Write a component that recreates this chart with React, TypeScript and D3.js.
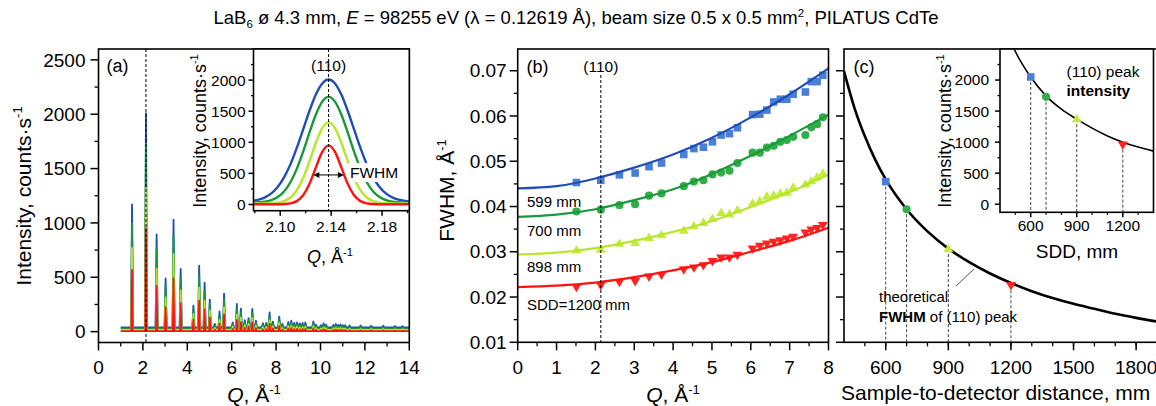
import React from "react";
import * as d3 from "d3";

const FONT = "Arial, 'Liberation Sans', Helvetica, sans-serif";

// ---- panel (a): LaB6 pattern, peak tops for each SDD (599, 700, 898, 1200 mm)
const peakQ = [
  1.511, 2.138, 2.618, 3.023, 3.38, 3.702, 4.275, 4.535, 4.78, 5.013, 5.236, 5.45, 5.656, 6.046,
  6.232, 6.413, 6.589, 6.76, 6.927, 7.09, 7.405, 7.558, 7.707, 7.854, 8.14, 8.279, 8.55, 8.683,
  8.813, 8.942, 9.069, 9.194, 9.318, 9.678, 9.796, 10.02, 10.14, 10.25, 10.58, 10.69, 10.79, 10.9,
  11.0, 11.11, 11.31, 11.81, 12.28, 12.83, 13.35, 13.69,
];
const peakTop599 = [
  1170, 2010, 895, 490, 1030, 578, 240, 608, 450, 295, 72, 185, 350, 85, 255, 212, 105, 125, 208,
  100, 78, 80, 178, 92, 138, 72, 90, 100, 80, 85, 76, 80, 85, 95, 65, 60, 76, 65, 62, 70, 62, 66,
  60, 60, 57, 57, 55, 55, 52, 50,
];
const peakTop700 = [
  1000, 1730, 765, 425, 885, 495, 205, 515, 380, 255, 56, 153, 292, 67, 215, 176, 84, 101, 172,
  80, 61, 62, 147, 73, 112, 56, 71, 80, 62, 67, 59, 62, 67, 75, 50, 45, 59, 50, 47, 54, 47, 50,
  45, 45, 43, 43, 41, 41, 38, 37,
];
const peakTop898 = [
  770, 1320, 580, 315, 715, 380, 162, 405, 285, 195, 36, 110, 225, 45, 157, 128, 58, 71, 126, 55,
  40, 41, 106, 49, 80, 36, 48, 55, 41, 45, 39, 41, 45, 51, 32, 28, 39, 32, 30, 35, 30, 33, 28, 28,
  26, 26, 25, 25, 23, 22,
];
const peakTop1200 = [
  567, 950, 420, 225, 490, 262, 110, 285, 205, 132, 19, 74, 158, 26, 107, 87, 35, 45, 85, 33, 22,
  23, 70, 29, 51, 19, 28, 33, 23, 26, 21, 23, 26, 30, 16, 14, 21, 16, 15, 18, 15, 17, 14, 14, 12,
  12, 11, 11, 10, 9,
];
const baseLevel = [40, 28, 15, 4];
const patternStart = 1.0;
const patternEnd = 14.0;

// ---- inset (a): (110) peak profiles
const insetQ = [
  2.078, 2.083, 2.088, 2.093, 2.098, 2.103, 2.108, 2.113, 2.118, 2.123, 2.128, 2.133, 2.138,
  2.143, 2.148, 2.153, 2.158, 2.163, 2.168, 2.173, 2.178, 2.183, 2.188, 2.193, 2.198, 2.203,
];
const inset599 = [
  58, 77, 114, 178, 282, 436, 645, 909, 1206, 1507, 1768, 1946, 2010, 1946, 1768, 1507, 1206, 909,
  645, 436, 282, 178, 114, 77, 58, 48,
];
const inset700 = [
  30, 35, 46, 70, 120, 210, 358, 573, 849, 1158, 1446, 1654, 1730, 1654, 1446, 1158, 849, 573, 358,
  210, 120, 70, 46, 35, 30, 29,
];
const inset898 = [
  15, 15, 16, 19, 28, 53, 112, 230, 426, 697, 993, 1229, 1320, 1229, 993, 697, 426, 230, 112, 53,
  28, 19, 16, 15, 15, 15,
];
const inset1200 = [
  4, 4, 4, 4, 4, 7, 18, 54, 149, 333, 596, 845, 950, 845, 596, 333, 149, 54, 18, 7, 4, 4, 4, 4, 4, 4,
];
const fwhmArrowQ = [2.126, 2.15];
const fwhmArrowLevel = 475;

// ---- panel (b): measured FWHM and fits
const fwhmQ = peakQ.slice(0, 24);
const fwhm599 = [
  0.0453, 0.0458, 0.047, 0.0474, 0.0488, 0.0496, 0.0515, 0.0528, 0.0531, 0.0543, 0.0558, 0.0561,
  0.0574, 0.0603, 0.0604, 0.0613, 0.0631, 0.0637, 0.0637, 0.0648, 0.0653, 0.0676, 0.0676, 0.069,
];
const fwhm700 = [
  0.0389, 0.0393, 0.0403, 0.0405, 0.0424, 0.0429, 0.0445, 0.0455, 0.0458, 0.0471, 0.0475, 0.0479,
  0.0496, 0.0519, 0.0519, 0.053, 0.0534, 0.0543, 0.0547, 0.0554, 0.0558, 0.0575, 0.0582, 0.0597,
];
const fwhm898 = [
  0.0303, 0.0305, 0.0318, 0.032, 0.0331, 0.0337, 0.0347, 0.0357, 0.0364, 0.0373, 0.0386, 0.0383,
  0.0392, 0.0407, 0.0412, 0.0422, 0.0425, 0.0429, 0.0431, 0.0442, 0.0449, 0.0456, 0.0465, 0.0473,
];
const fwhm1200 = [
  0.0222, 0.0226, 0.0233, 0.0235, 0.0245, 0.0249, 0.0261, 0.0265, 0.027, 0.0279, 0.0287, 0.0287,
  0.0293, 0.0307, 0.0313, 0.0318, 0.0322, 0.0325, 0.0329, 0.0333, 0.0342, 0.0349, 0.0352, 0.0359,
];
const fitQ = [0, 1, 2, 3, 4, 5, 6, 7, 8];
const fit599 = [0.044, 0.0445, 0.0462, 0.0486, 0.0515, 0.0552, 0.0597, 0.0648, 0.0705];
const fit700 = [0.0377, 0.0382, 0.0394, 0.0414, 0.0438, 0.0472, 0.0512, 0.0556, 0.0603];
const fit898 = [0.0294, 0.0298, 0.0308, 0.0324, 0.0344, 0.0368, 0.0399, 0.0432, 0.0471];
const fit1200 = [0.0222, 0.0225, 0.0232, 0.0244, 0.0259, 0.0277, 0.03, 0.0324, 0.0353];
const sddLabels = ["599 mm", "700 mm", "898 mm", "SDD=1200 mm"];

// ---- panel (c): (110) peak vs sample-to-detector distance
const sdd = [600, 700, 900, 1200];
const peakFwhm110 = [0.0455, 0.0394, 0.0306, 0.0226];
const peakInt110 = [2050, 1730, 1370, 960];
const theoSdd = [400, 450, 500, 550, 600, 700, 800, 900, 1000, 1100, 1200, 1300, 1400, 1500, 1600, 1700, 1800, 1900];
const theoFwhm = [
  0.0699, 0.0618, 0.0555, 0.0503, 0.046, 0.0394, 0.0345, 0.0307, 0.0277, 0.0252, 0.0231, 0.0213,
  0.0198, 0.0185, 0.0174, 0.0163, 0.0154, 0.0146,
];
const intSdd = [450, 500, 600, 700, 800, 900, 1000, 1100, 1200, 1300, 1400];
const intCurve = [2740, 2460, 2050, 1745, 1530, 1370, 1225, 1100, 1000, 920, 855];

const lineColors = ["#1f4fb4", "#189a3a", "#b8e62a", "#ff1212"];
const markColors = ["#4a7fd6", "#33ad4a", "#c4ec3c", "#ff2424"];

// ---- layout
const A = { l: 98.5, r: 409.3, t: 49, b: 342.5 };
const AI = { l: 253.5, r: 409.3, t: 49, b: 210.7 };
const B = { l: 517.7, r: 828.5, t: 49, b: 342.3 };
const C = { l: 844, r: 1157, t: 49, b: 342.3 };
const CI = { l: 1000, r: 1153.5, t: 49, b: 212.3 };

const xA = d3.scaleLinear().domain([0, 14]).range([A.l, A.r]);
const yA = d3.scaleLinear().domain([-100, 2600]).range([A.b, A.t]);
const xAI = d3.scaleLinear().domain([2.079, 2.2014]).range([AI.l, AI.r]);
const yAI = d3.scaleLinear().domain([-100, 2500]).range([AI.b, AI.t]);
const xB = d3.scaleLinear().domain([0, 8]).range([B.l, B.r]);
const yB = d3.scaleLinear().domain([0.01, 0.0748]).range([B.b, B.t]);
const xC = d3.scaleLinear().domain([400, 1900]).range([C.l, C.r]);
const xCI = d3.scaleLinear().domain([400, 1400]).range([CI.l, CI.r]);
const yCI = d3.scaleLinear().domain([-130, 2500]).range([CI.b, CI.t]);

type Scale = d3.ScaleLinear<number, number>;
type Box = { l: number; r: number; t: number; b: number };

const rng = (a: number, b: number, s: number) =>
  d3.range(Math.round((b - a) / s) + 1).map((i) => +(a + i * s).toFixed(6));

function XTicks(p: {
  scale: Scale; y: number; major: number[]; minor: number[]; labels?: string[];
  fs: number; len: number; dy: number;
}) {
  return (
    <g>
      {p.minor.map((v) => (
        <line key={"m" + v} x1={p.scale(v)} x2={p.scale(v)} y1={p.y} y2={p.y + p.len / 2} stroke="#000" strokeWidth={1.3} />
      ))}
      {p.major.map((v, i) => (
        <g key={"M" + v}>
          <line x1={p.scale(v)} x2={p.scale(v)} y1={p.y} y2={p.y + p.len} stroke="#000" strokeWidth={1.5} />
          {p.labels && (
            <text x={p.scale(v)} y={p.y + p.dy} textAnchor="middle" fontSize={p.fs}>
              {p.labels[i]}
            </text>
          )}
        </g>
      ))}
    </g>
  );
}

function YTicks(p: {
  scale: Scale; x: number; major: number[]; minor: number[]; labels?: string[];
  fs: number; len: number; gap: number;
}) {
  return (
    <g>
      {p.minor.map((v) => (
        <line key={"m" + v} y1={p.scale(v)} y2={p.scale(v)} x1={p.x} x2={p.x - p.len / 2} stroke="#000" strokeWidth={1.3} />
      ))}
      {p.major.map((v, i) => (
        <g key={"M" + v}>
          <line y1={p.scale(v)} y2={p.scale(v)} x1={p.x} x2={p.x - p.len} stroke="#000" strokeWidth={1.5} />
          {p.labels && (
            <text x={p.x - p.len - p.gap} y={p.scale(v) + p.fs * 0.35} textAnchor="end" fontSize={p.fs}>
              {p.labels[i]}
            </text>
          )}
        </g>
      ))}
    </g>
  );
}

function Frame({ box, fill }: { box: Box; fill?: string }) {
  return (
    <rect x={box.l} y={box.t} width={box.r - box.l} height={box.b - box.t} fill={fill ?? "none"} stroke="#000" strokeWidth={1.6} />
  );
}

function Marker({ kind, x, y, color }: { kind: number; x: number; y: number; color: string }) {
  if (kind === 0) return <rect x={x - 3.8} y={y - 3.8} width={7.6} height={7.6} fill={color} />;
  if (kind === 1) return <circle cx={x} cy={y} r={4.1} fill={color} />;
  const s = kind === 2 ? 1 : -1;
  const h = 8.4;
  const d = `M${x},${y - s * h * 0.62}L${x + 5},${y + s * h * 0.38}L${x - 5},${y + s * h * 0.38}Z`;
  return <path d={d} fill={color} />;
}

function patternPoints(tops: number[], base: number, w: number): [number, number][] {
  const pts: [number, number][] = [[patternStart, base]];
  peakQ.forEach((q, i) => {
    pts.push([q - w, base], [q, tops[i]], [q + w, base]);
  });
  pts.push([patternEnd, base]);
  return pts;
}

function QTitle({ x, y, fs }: { x: number; y: number; fs: number }) {
  return (
    <text x={x} y={y} textAnchor="middle" fontSize={fs}>
      <tspan fontStyle="italic">Q</tspan>, Å
      <tspan dy={-fs * 0.4} fontSize={fs * 0.62}>-1</tspan>
    </text>
  );
}

function IntTitle({ x, y, fs }: { x: number; y: number; fs: number }) {
  return (
    <text transform={`translate(${x},${y}) rotate(-90)`} textAnchor="middle" fontSize={fs}>
      Intensity, counts·s
      <tspan dy={-fs * 0.4} fontSize={fs * 0.62}>-1</tspan>
    </text>
  );
}

export default function App() {
  const tops = [peakTop599, peakTop700, peakTop898, peakTop1200];
  const halfBase = [0.05, 0.045, 0.04, 0.032];
  const lineA = d3.line<[number, number]>().x((d) => xA(d[0])).y((d) => yA(d[1]));

  const insetSeries = [inset599, inset700, inset898, inset1200];
  const lineAI = d3
    .line<number>()
    .x((_, i) => xAI(insetQ[i]))
    .y((d) => yAI(d))
    .curve(d3.curveMonotoneX);

  const fwhmSeries = [fwhm599, fwhm700, fwhm898, fwhm1200];
  const fitSeries = [fit599, fit700, fit898, fit1200];
  const lineB = d3
    .line<number>()
    .x((_, i) => xB(fitQ[i]))
    .y((d) => yB(d))
    .curve(d3.curveNatural);

  const lineC = d3
    .line<number>()
    .x((_, i) => xC(theoSdd[i]))
    .y((d) => yB(d))
    .curve(d3.curveMonotoneX);
  const lineCI = d3
    .line<number>()
    .x((_, i) => xCI(intSdd[i]))
    .y((d) => yCI(d))
    .curve(d3.curveMonotoneX);

  const labelY = [207, 236, 272, 309.5];
  const ax = xAI(fwhmArrowQ[0]);
  const bx = xAI(fwhmArrowQ[1]);
  const ay = yAI(fwhmArrowLevel);

  return (
    <div style={{ position: "absolute", left: 0, top: 0 }}>
      <svg width={1156} height={406} fontFamily={FONT} style={{ display: "block", background: "#fff" }}>
        <defs>
          <clipPath id="clipAI">
            <rect x={AI.l} y={AI.t} width={AI.r - AI.l} height={AI.b - AI.t} />
          </clipPath>
          <clipPath id="clipC">
            <rect x={C.l} y={C.t} width={C.r - C.l} height={C.b - C.t} />
          </clipPath>
          <clipPath id="clipCI">
            <rect x={CI.l} y={CI.t} width={CI.r - CI.l} height={CI.b - CI.t} />
          </clipPath>
        </defs>

        {/* title */}
        <text x={576} y={24} textAnchor="middle" fontSize={18.5}>
          LaB<tspan dy={4} fontSize={11.5}>6</tspan>
          <tspan dy={-4}> ø 4.3 mm, </tspan>
          <tspan fontStyle="italic">E</tspan> = 98255 eV (λ = 0.12619 Å), beam size 0.5 x 0.5 mm
          <tspan dy={-7} fontSize={11.5}>2</tspan>
          <tspan dy={7}>, PILATUS CdTe</tspan>
        </text>

        {/* ===== panel (a) ===== */}
        {tops.map((t, k) => (
          <path key={k} d={lineA(patternPoints(t, baseLevel[k], halfBase[k])) ?? ""} fill="none" stroke={lineColors[k]} strokeWidth={1.8} strokeLinejoin="round" />
        ))}
        <line x1={xA(2.138)} x2={xA(2.138)} y1={A.t} y2={A.b} stroke="#000" strokeWidth={1} strokeDasharray="3,2" />
        <Frame box={A} />
        <XTicks scale={xA} y={A.b} major={rng(0, 14, 2)} minor={rng(1, 13, 2)} labels={rng(0, 14, 2).map(String)} fs={19} len={8} dy={31.5} />
        <YTicks scale={yA} x={A.l} major={rng(0, 2500, 500)} minor={rng(250, 2250, 500)} labels={rng(0, 2500, 500).map(String)} fs={19} len={8} gap={5} />
        <text x={117.5} y={71.5} textAnchor="middle" fontSize={18}>(a)</text>
        <IntTitle x={30.5} y={196} fs={21} />
        <QTitle x={254} y={402} fs={21} />

        {/* inset (a) */}
        <rect x={AI.l} y={AI.t} width={AI.r - AI.l} height={AI.b - AI.t} fill="#fff" />
        <g clipPath="url(#clipAI)">
          {insetSeries.map((s, k) => (
            <path key={k} d={lineAI(s) ?? ""} fill="none" stroke={lineColors[k]} strokeWidth={2.4} />
          ))}
        </g>
        <line x1={xAI(2.138)} x2={xAI(2.138)} y1={AI.t} y2={AI.b} stroke="#000" strokeWidth={1} strokeDasharray="3,2" />
        <line x1={ax + 2} x2={bx - 2} y1={ay} y2={ay} stroke="#000" strokeWidth={1} />
        <path d={`M${ax},${ay}l6,-3v6Z`} fill="#000" />
        <path d={`M${bx},${ay}l-6,-3v6Z`} fill="#000" />
        <rect x={348} y={163} width={60} height={19} fill="#fff" />
        <text x={350} y={178} fontSize={15.5}>FWHM</text>
        <text x={xAI(2.138)} y={71} textAnchor="middle" fontSize={15.5}>(110)</text>
        <Frame box={AI} />
        <XTicks scale={xAI} y={AI.b} major={[2.1, 2.14, 2.18]} minor={[2.08, 2.12, 2.16, 2.2]} labels={["2.10", "2.14", "2.18"]} fs={15.5} len={5} dy={21.5} />
        <YTicks scale={yAI} x={AI.l} major={rng(0, 2000, 500)} minor={rng(250, 2250, 500)} labels={rng(0, 2000, 500).map(String)} fs={15.5} len={5} gap={3} />
        <IntTitle x={205.5} y={131} fs={18} />
        <QTitle x={330} y={263} fs={18} />

        {/* ===== panel (b) ===== */}
        {fwhmSeries.map((s, k) => (
          <g key={k}>
            {s.map((v, i) => (
              <Marker key={i} kind={k} x={xB(fwhmQ[i])} y={yB(v)} color={markColors[k]} />
            ))}
          </g>
        ))}
        {fitSeries.map((s, k) => (
          <path key={k} d={lineB(s) ?? ""} fill="none" stroke={lineColors[k]} strokeWidth={2.2} />
        ))}
        <line x1={xB(2.14)} x2={xB(2.14)} y1={75} y2={B.b} stroke="#000" strokeWidth={1} strokeDasharray="3,2" />
        <Frame box={B} />
        <XTicks scale={xB} y={B.b} major={rng(0, 8, 1)} minor={rng(0.5, 7.5, 1)} labels={rng(0, 8, 1).map(String)} fs={19} len={8} dy={31.5} />
        <YTicks scale={yB} x={B.l} major={rng(0.01, 0.07, 0.01)} minor={rng(0.015, 0.065, 0.01)} labels={rng(0.01, 0.07, 0.01).map((v) => v.toFixed(2))} fs={19} len={8} gap={3} />
        <text x={537.5} y={73} textAnchor="middle" fontSize={18}>(b)</text>
        <text x={xB(2.14)} y={72} textAnchor="middle" fontSize={15.5}>(110)</text>
        {sddLabels.map((t, k) => (
          <text key={t} x={527} y={labelY[k]} fontSize={15}>{t}</text>
        ))}
        <text transform={`translate(454,190.5) rotate(-90)`} textAnchor="middle" fontSize={21}>
          FWHM, Å<tspan dy={-8} fontSize={13}>-1</tspan>
        </text>
        <QTitle x={673} y={402} fs={21} />

        {/* ===== panel (c) ===== */}
        <g clipPath="url(#clipC)">
          <path d={lineC(theoFwhm) ?? ""} fill="none" stroke="#000" strokeWidth={2.6} />
        </g>
        {sdd.map((s, k) => (
          <line key={"d" + k} x1={xC(s)} x2={xC(s)} y1={yB(peakFwhm110[k])} y2={C.b} stroke="#444" strokeWidth={1} strokeDasharray="3,2" />
        ))}
        {sdd.map((s, k) => (
          <Marker key={"m" + k} kind={k} x={xC(s)} y={yB(peakFwhm110[k])} color={markColors[k]} />
        ))}
        <line x1={956} y1={286} x2={974} y2={269} stroke="#555" strokeWidth={1} />
        <text x={879} y={302} fontSize={15}>theoretical</text>
        <text x={879} y={321.5} fontSize={15}>
          <tspan fontWeight="bold">FWHM</tspan> of (110) peak
        </text>
        <Frame box={C} />
        <XTicks scale={xC} y={C.b} major={rng(600, 1800, 300)} minor={rng(500, 1900, 100)} labels={rng(600, 1800, 300).map(String)} fs={19} len={8} dy={31.5} />
        <YTicks scale={yB} x={C.l} major={rng(0.01, 0.07, 0.01)} minor={rng(0.015, 0.065, 0.01)} fs={19} len={8} gap={3} />
        <text x={864} y={73} textAnchor="middle" fontSize={18}>(c)</text>
        <text x={841} y={400} fontSize={21}>Sample-to-detector distance, mm</text>

        {/* inset (c) */}
        <rect x={CI.l} y={CI.t} width={CI.r - CI.l} height={CI.b - CI.t} fill="#fff" />
        <g clipPath="url(#clipCI)">
          <path d={lineCI(intCurve) ?? ""} fill="none" stroke="#000" strokeWidth={1.6} />
        </g>
        {sdd.map((s, k) => (
          <line key={"di" + k} x1={xCI(s)} x2={xCI(s)} y1={yCI(peakInt110[k])} y2={CI.b} stroke="#444" strokeWidth={1} strokeDasharray="3,2" />
        ))}
        {sdd.map((s, k) => (
          <Marker key={"mi" + k} kind={k} x={xCI(s)} y={yCI(peakInt110[k])} color={markColors[k]} />
        ))}
        <text x={1066.5} y={77} fontSize={15.5}>(110) peak</text>
        <text x={1066.5} y={96} fontSize={15.5} fontWeight="bold">intensity</text>
        <Frame box={CI} />
        <XTicks scale={xCI} y={CI.b} major={[600, 900, 1200]} minor={[500, 700, 800, 1000, 1100, 1300]} labels={["600", "900", "1200"]} fs={15.5} len={5} dy={19} />
        <YTicks scale={yCI} x={CI.l} major={rng(0, 2000, 500)} minor={rng(250, 2250, 500)} labels={rng(0, 2000, 500).map(String)} fs={15.5} len={5} gap={6} />
        <IntTitle x={951} y={131} fs={18} />
        <text x={1077} y={258} textAnchor="middle" fontSize={19}>SDD, mm</text>
      </svg>
    </div>
  );
}
